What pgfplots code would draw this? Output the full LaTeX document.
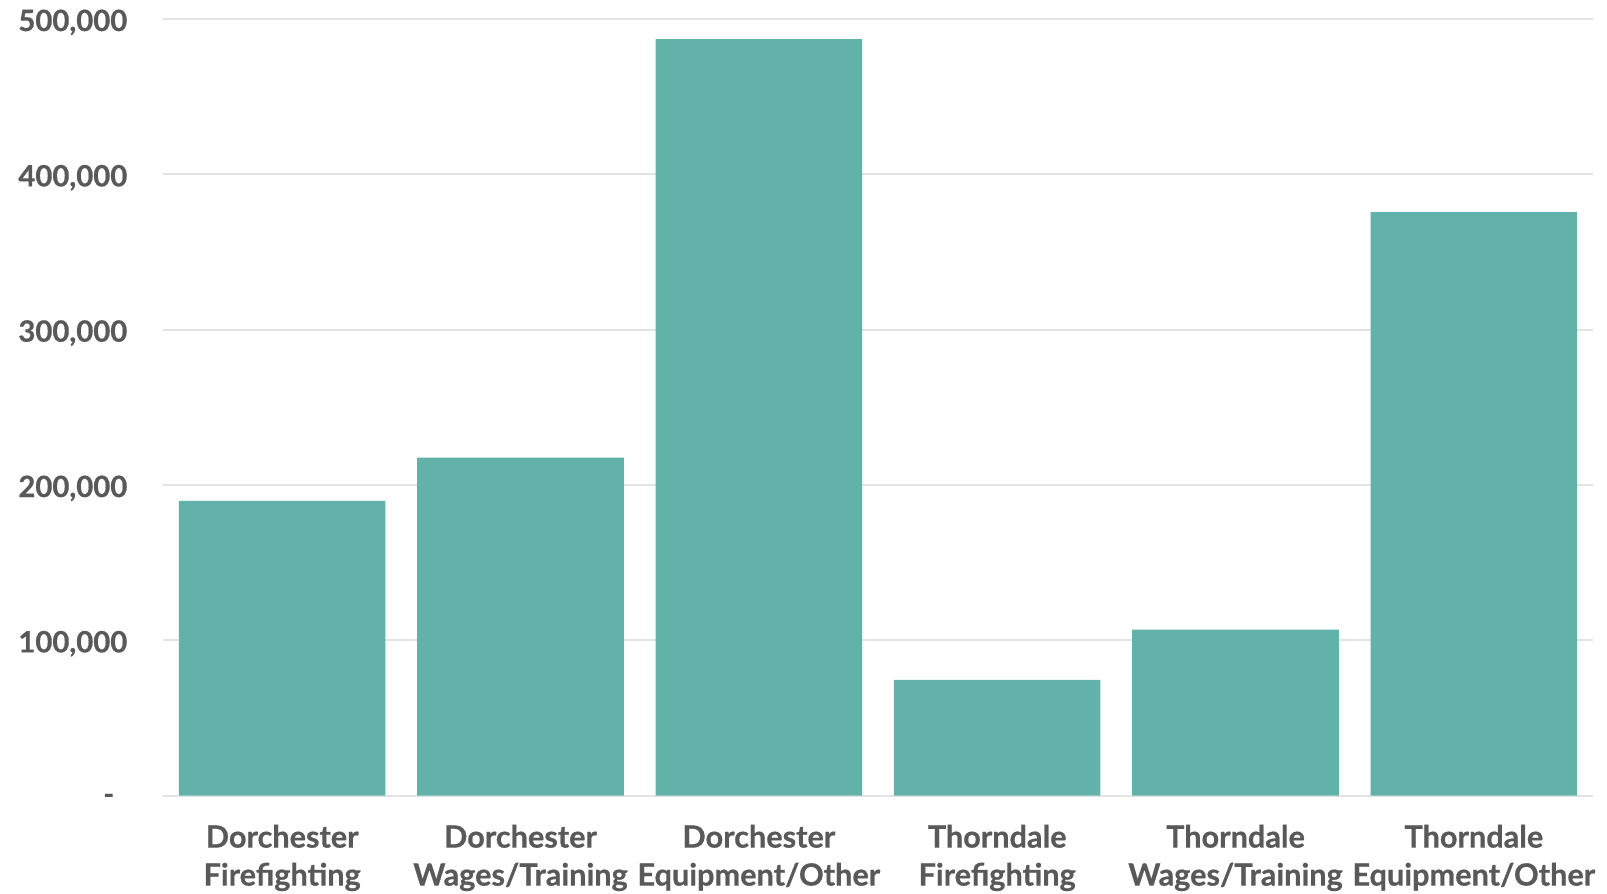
\documentclass[border=0pt]{standalone}
\usepackage{pgfplots}
\pgfplotsset{compat=1.18}
\usepackage{fontspec}
\setmainfont{Lato}[BoldFeatures={FakeBold=0.6}]
\definecolor{barc}{HTML}{62B2A9}
\definecolor{txt}{HTML}{595959}
\definecolor{gridc}{HTML}{E3E3E3}
\begin{document}
\begin{tikzpicture}
\useasboundingbox (-48.9pt,-29.19pt) rectangle (433.2pt,238.71pt);
\begin{axis}[
  at={(0,0)}, anchor=south west,
  scale only axis,
  width=429pt, height=233pt,
  xmin=-0.5, xmax=5.5,
  ymin=0, ymax=500000,
  axis line style={draw=none},
  ybar, bar width=0.867,
  bar shift=0pt,
  xtick=data,
  xticklabels={{Dorchester\\Firefighting},{Dorchester\\Wages/Training},{Dorchester\\Equipment/Other},{Thorndale\\Firefighting},{Thorndale\\Wages/Training},{Thorndale\\Equipment/Other}},
  ytick={0,100000,200000,300000,400000,500000},
  yticklabels={{-\hspace*{3.9pt}},{100,000},{200,000},{300,000},{400,000},{500,000}},
  xmajorgrids=false,
  ymajorgrids=true,
  grid style={draw=gridc, line width=0.6pt},
  major tick length=0pt,
  tick style={draw=none},
  xticklabel style={align=center, font=\fontsize{9.2}{11.4}\selectfont\bfseries, text=txt, yshift=-5.2pt},
  yticklabel style={font=\fontsize{8.8}{10}\selectfont\bfseries, text=txt, inner sep=0pt, xshift=-10.5pt, yshift=-1pt},
]
\addplot[fill=barc, draw=none] coordinates {(0,189800) (1,217600) (2,487100) (3,74500) (4,106900) (5,375700)};
\end{axis}
\end{tikzpicture}
\end{document}
